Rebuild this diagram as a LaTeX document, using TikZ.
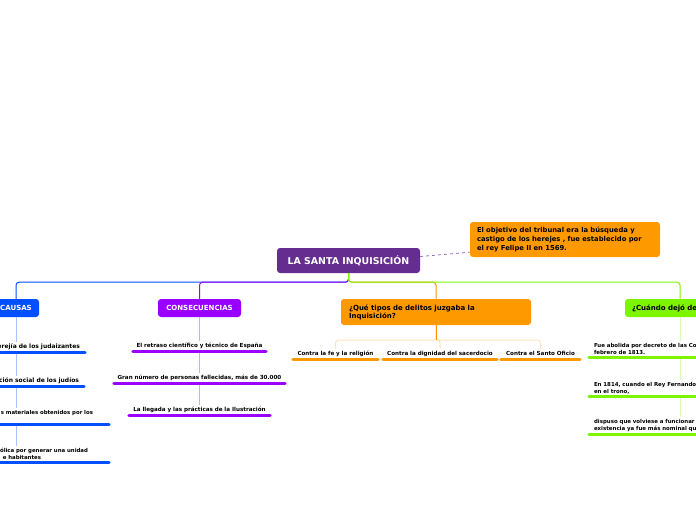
\documentclass[tikz,border=0pt]{standalone}
\usepackage{fontspec}
\setmainfont{DejaVu Sans}
\usepackage{tikz}

\definecolor{raiz}{RGB}{102,45,145}
\definecolor{azul}{RGB}{0,80,255}
\definecolor{azulclaro}{RGB}{165,195,255}
\definecolor{lila}{RGB}{153,0,255}
\definecolor{lilaclaro}{RGB}{218,165,255}
\definecolor{naranja}{RGB}{255,153,0}
\definecolor{naranjaclaro}{RGB}{255,226,185}
\definecolor{verde}{RGB}{125,245,0}
\definecolor{verdeclaro}{RGB}{215,255,180}
\definecolor{punteado}{RGB}{150,110,190}

\begin{document}
\begin{tikzpicture}[x=1pt,y=-1pt,
    caja/.style={rounded corners=3pt,inner sep=0pt,font=\bfseries\fontsize{7}{8.5}\selectfont},
    hoja/.style={anchor=south,inner xsep=5pt,inner ysep=2pt,font=\bfseries\fontsize{5.6}{7}\selectfont},
    centro/.style={hoja,inner xsep=0pt,text width=#1,align=center,text depth=1.6pt},
    rama/.style={line width=1pt,rounded corners=3pt},
    raya/.style={line width=3pt,line cap=round}]
  \useasboundingbox (0,0) rectangle (696,520);
  \clip (0,0) rectangle (696,520);

  % tema central y nota
  \node[caja,fill=raiz,text=white,minimum width=143pt,minimum height=25pt,
        font=\bfseries\fontsize{9.4}{10}\selectfont] (raiz) at (348.5,260.5) {LA SANTA INQUISICIÓN};
  \node[caja,fill=naranja,minimum width=190pt,minimum height=35pt,text width=176pt,align=left,
        font=\bfseries\fontsize{6.8}{9}\selectfont] (nota) at (565,239.5)
    {El objetivo del tribunal era la búsqueda y\\castigo de los herejes , fue establecido por\\el rey Felipe II en 1569.};

  % ramas
  \node[caja,fill=azul,text=white,minimum width=46pt,minimum height=18pt] (causas) at (16,308) {CAUSAS};
  \node[caja,fill=lila,text=white,minimum width=83pt,minimum height=18pt] (consec) at (199.5,308) {CONSECUENCIAS};
  \node[caja,fill=naranja,minimum width=190pt,minimum height=26pt,text width=174pt,align=left,
        font=\bfseries\fontsize{7}{8}\selectfont] (delitos) at (436,312)
    {¿Qué tipos de delitos juzgaba la\\Inquisición?};
  \node[caja,fill=verde,minimum width=110pt,minimum height=18pt,text width=96pt,align=left] (cuando) at (680,308) {¿Cuándo dejó de};

  % causas
  \node[hoja,text width=128pt,align=right,font=\bfseries\fontsize{6}{7.5}\selectfont] (a1) at (16,352) {erejía de los judaizantes};
  \node[hoja,text width=126pt,align=right,font=\bfseries\fontsize{6}{7.5}\selectfont] (a2) at (16,386) {ción social de los judíos};
  \node[hoja,text width=176pt,align=right,font=\bfseries\fontsize{5.4}{7.5}\selectfont] (a3) at (16,424)
    {s materiales obtenidos por los\hspace*{11pt}\mbox{}\\ \mbox{}};
  \node[hoja,text width=176pt,align=right,font=\bfseries\fontsize{5.4}{7}\selectfont] (a4) at (16,462)
    {ólica por generar una unidad\hspace*{16pt}\mbox{}\\e habitantes\hspace*{63pt}\mbox{}};

  % consecuencias
  \node[centro=133pt] (c1) at (199.5,351) {El retraso científico y técnico de España};
  \node[centro=171pt] (c2) at (199.5,383) {Gran número de personas fallecidas, más de 30.000};
  \node[centro=141pt] (c3) at (199.5,415) {La llegada y las prácticas de la Ilustración};

  % delitos
  \node[centro=85pt] (d1) at (335.5,359) {Contra la fe y la religión};
  \node[centro=114pt] (d2) at (440,359) {Contra la dignidad del sacerdocio};
  \node[centro=79pt] (d3) at (540.5,359) {Contra el Santo Oficio};

  % cuando
  \node[hoja,text width=172pt,align=left,font=\bfseries\fontsize{5.45}{7}\selectfont] (w1) at (680,357) {Fue abolida por decreto de las Co\\febrero de 1813.};
  \node[hoja,text width=172pt,align=left,font=\bfseries\fontsize{5.45}{7}\selectfont] (w2) at (680,396) {En 1814, cuando el Rey Fernando\\en el trono,};
  \node[hoja,text width=172pt,align=left,font=\bfseries\fontsize{5.45}{7}\selectfont] (w3) at (680,434) {dispuso que volviese a funcionar\\existencia ya fue más nominal qu};

  \draw[punteado,dashed,thick] ([yshift=4pt]raiz.east) -- ([yshift=5pt]nota.south west);

  \draw[rama,azul] (raiz.south) -- ++(0,9) -| (causas.north);
  \draw[rama,lila] (raiz.south) -- ++(0,9) -| (consec.north);
  \draw[rama,naranja] (raiz.south) -- ++(0,9) -| (delitos.north);
  \draw[rama,verde] (raiz.south) -- ++(0,9) -| (cuando.north);

  \draw[rama,azulclaro] (causas.south) -- (a1.north);
  \draw[rama,azulclaro] (a1.south) -- (a2.north);
  \draw[rama,azulclaro] (a2.south) -- (a3.north);
  \draw[rama,azulclaro] (a3.south) -- (a4.north);
  \draw[rama,lilaclaro] (consec.south) -- (c1.north);
  \draw[rama,lilaclaro] (c1.south) -- (c2.north);
  \draw[rama,lilaclaro] (c2.south) -- (c3.north);
  \foreach \d in {d1,d2,d3}
    \draw[rama,naranjaclaro] (delitos.south) -- ++(0,15) -| (\d.north);
  \draw[rama,naranja] (delitos.south) -- ++(0,15);
  \draw[rama,verdeclaro] (cuando.south) -- (w1.north);
  \draw[rama,verdeclaro] (w1.south) -- (w2.north);
  \draw[rama,verdeclaro] (w2.south) -- (w3.north);

  \foreach \n in {a1,a2,a3,a4}
    \draw[raya,azul] (\n.south west) -- (\n.south east);
  \foreach \n in {c1,c2,c3}
    \draw[raya,lila] (\n.south west) -- (\n.south east);
  \foreach \n in {d1,d2,d3}
    \draw[raya,naranja] (\n.south west) -- (\n.south east);
  \foreach \n in {w1,w2,w3}
    \draw[raya,verde] (\n.south west) -- (\n.south east);
\end{tikzpicture}
\end{document}
